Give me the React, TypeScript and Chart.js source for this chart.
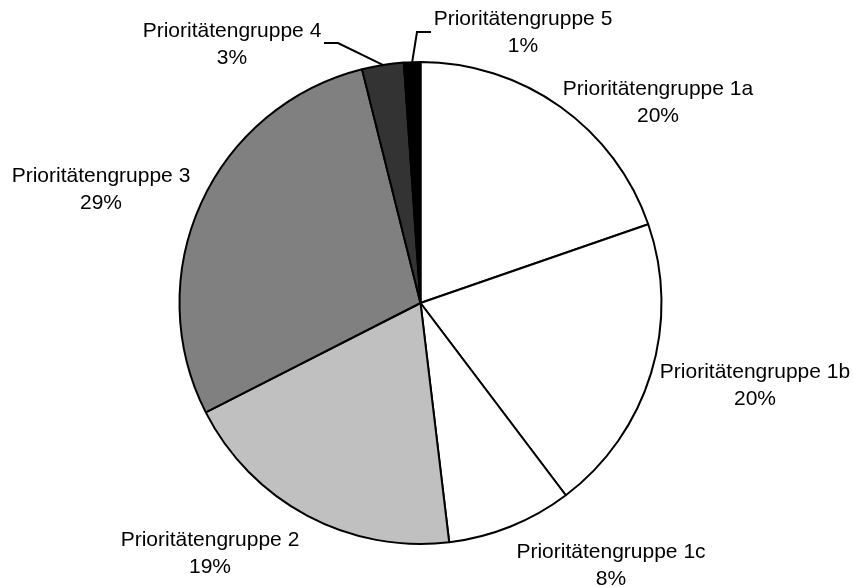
import React, { useEffect, useRef } from "react";
import { Chart, registerables } from "chart.js";

Chart.register(...registerables);

const categories = [
  "Prioritätengruppe 1a",
  "Prioritätengruppe 1b",
  "Prioritätengruppe 1c",
  "Prioritätengruppe 2",
  "Prioritätengruppe 3",
  "Prioritätengruppe 4",
  "Prioritätengruppe 5",
];
const shares = [19.7, 20.0, 8.4, 19.4, 28.6, 2.8, 1.1];
const sliceColors = ["#ffffff", "#ffffff", "#ffffff", "#c0c0c0", "#808080", "#333333", "#000000"];

// text placement of each label (centre of first line), with optional leader elbow
const labelPlacements = [
  { x: 658, y: 89 },
  { x: 755, y: 372 },
  { x: 611, y: 552 },
  { x: 210, y: 540 },
  { x: 101, y: 176 },
  { x: 232, y: 31, leader: [[324, 43], [338, 43]] },
  { x: 523, y: 19, leader: [[431, 32], [417, 32]] },
];

const FONT = '21px "Liberation Sans", Arial, sans-serif';
const LINE_GAP = 27;

const sliceLabelPlugin = {
  id: "sliceLabels",
  afterDatasetsDraw(chart: any) {
    const ctx = chart.ctx;
    const meta = chart.getDatasetMeta(0);
    const data = chart.data.datasets[0].data as number[];
    const total = data.reduce((a, b) => a + b, 0);
    ctx.save();
    ctx.font = FONT;
    ctx.fillStyle = "#000";
    ctx.textAlign = "center";
    ctx.textBaseline = "middle";
    meta.data.forEach((arc: any, i: number) => {
      const place = labelPlacements[i];
      const pct = Math.round((data[i] / total) * 100);
      ctx.fillText(chart.data.labels[i], place.x, place.y);
      ctx.fillText(pct + "%", place.x, place.y + LINE_GAP);
      if (place.leader) {
        const p = arc.getProps(["x", "y", "startAngle", "endAngle", "outerRadius"], true);
        const mid = (p.startAngle + p.endAngle) / 2;
        const ax = p.x + Math.cos(mid) * p.outerRadius;
        const ay = p.y + Math.sin(mid) * p.outerRadius;
        ctx.beginPath();
        ctx.strokeStyle = "#000";
        ctx.lineWidth = 2;
        ctx.moveTo(place.leader[0][0], place.leader[0][1]);
        ctx.lineTo(place.leader[1][0], place.leader[1][1]);
        ctx.lineTo(ax, ay);
        ctx.stroke();
      }
    });
    ctx.restore();
  },
};

export default function App() {
  const ref = useRef<HTMLCanvasElement | null>(null);
  useEffect(() => {
    if (!ref.current) return;
    const chart = new Chart(ref.current, {
      type: "pie",
      data: {
        labels: categories,
        datasets: [
          {
            data: shares,
            backgroundColor: sliceColors,
            borderColor: "#000000",
            borderWidth: 2,
            hoverOffset: 0,
          },
        ],
      },
      options: {
        responsive: false,
        animation: false,
        layout: { padding: { top: 61, bottom: 42, left: 0, right: 12 } },
        plugins: {
          legend: { display: false },
          tooltip: { enabled: false },
        },
        events: [],
      },
      plugins: [sliceLabelPlugin],
    });
    return () => chart.destroy();
  }, []);
  return (
    <div style={{ position: "fixed", left: 0, top: 0, width: 853, height: 587, background: "#fff" }}>
      <canvas ref={ref} width={853} height={587} style={{ display: "block" }} />
    </div>
  );
}
